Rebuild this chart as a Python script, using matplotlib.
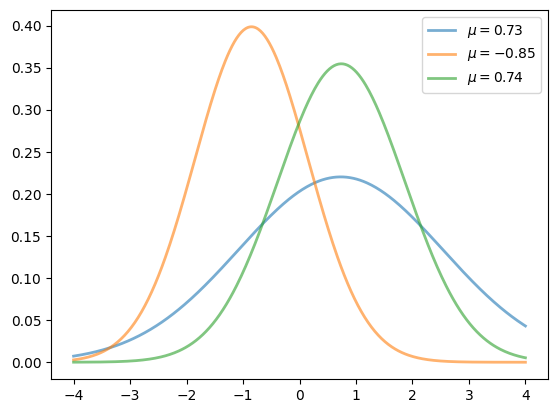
import numpy as np
import matplotlib
matplotlib.use("Agg")
import matplotlib.pyplot as plt

# Normal distribution parameters
mus = [0.73, -0.85, 0.74]
sigmas = [1.81, 1.0, 1.124]
labels = [r"$\mu=0.73$", r"$\mu=-0.85$", r"$\mu=0.74$"]
x_range = [-4, 4]

fig = plt.figure(figsize=(5.56, 4.13), dpi=100)
ax = fig.add_axes([51 / 556, 1 - 379 / 413, 497 / 556, 369 / 413])
x = np.linspace(x_range[0], x_range[1], 400)
for mu, s, lab in zip(mus, sigmas, labels):
    y = np.exp(-(x - mu) ** 2 / (2 * s ** 2)) / (s * np.sqrt(2 * np.pi))
    ax.plot(x, y, lw=2, alpha=0.6, label=lab)
ax.legend(loc="upper right")
fig.savefig("out.png", dpi=100)
